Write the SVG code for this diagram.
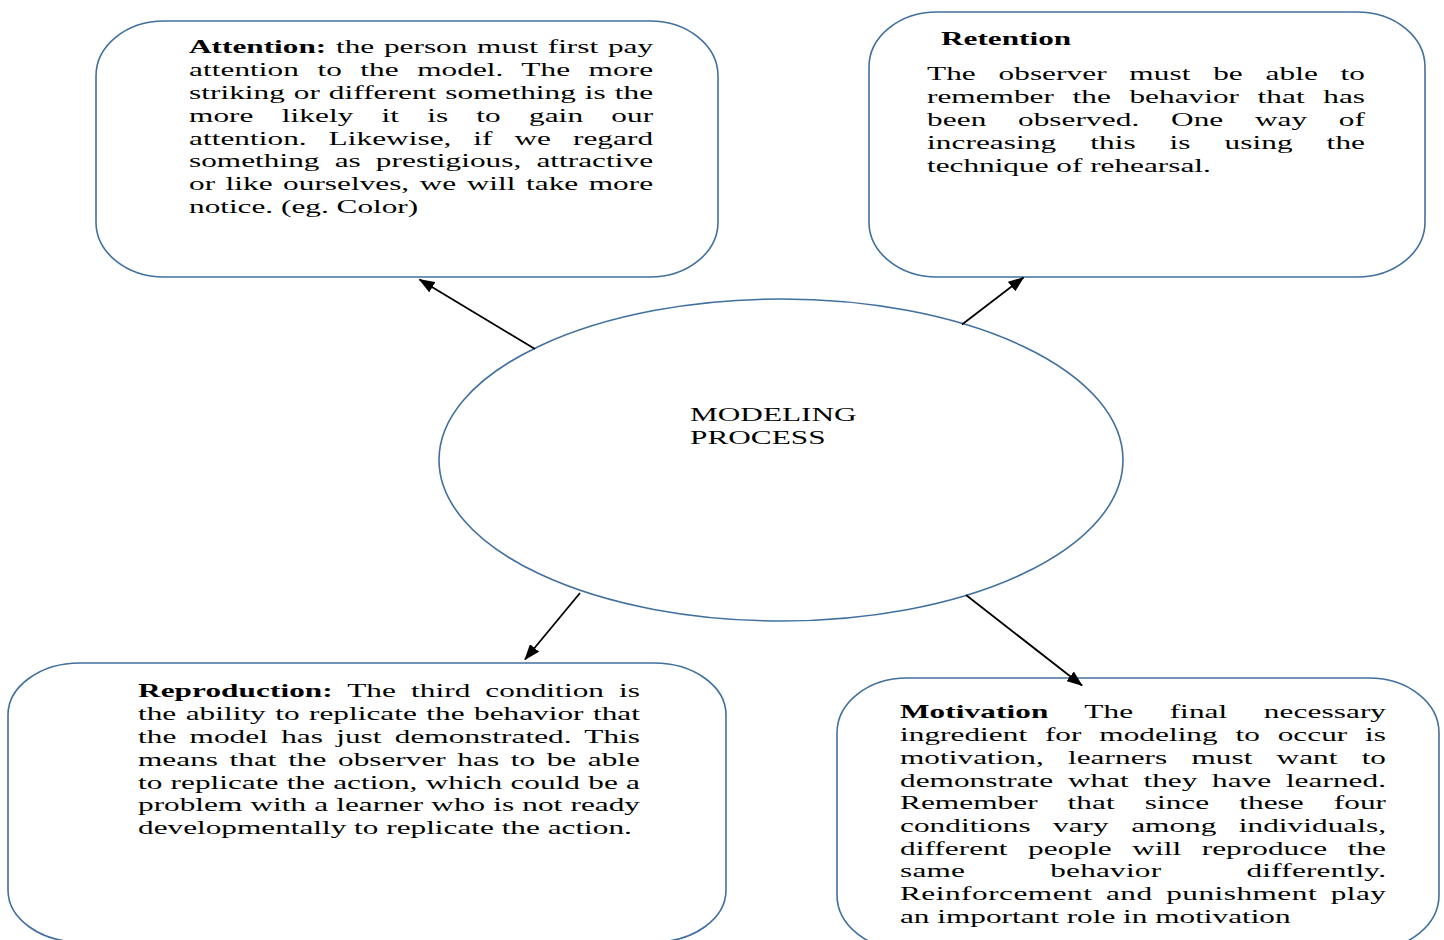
<svg xmlns="http://www.w3.org/2000/svg" width="1444" height="940" viewBox="0 0 1444 940">
  <style>
    .box { fill: #ffffff; stroke: #41709f; stroke-width: 1.6; }
    .hub { fill: #ffffff; stroke: #41709f; stroke-width: 1.6; }
    .link { stroke: #000000; stroke-width: 1.8; fill: none; marker-end: url(#head); }
    text { font-family: "Liberation Serif", "Times New Roman", serif; font-size: 19.8px; fill: #000000; }
    .b { font-weight: bold; }
  </style>
  <defs>
    <marker id="head" markerUnits="userSpaceOnUse" markerWidth="16" markerHeight="12" viewBox="0 0 16 12" refX="15" refY="6" orient="auto">
      <path d="M0,0 L16,6 L0,12 Z" fill="#000000"/>
    </marker>
  </defs>

  <rect width="1444" height="940" fill="#ffffff"/>

  <!-- centre ellipse -->
  <g id="modeling-process">
    <ellipse class="hub" cx="781" cy="460" rx="342" ry="161"/>
    <g transform="translate(690 1) scale(1.58 1)">
      <text x="0" y="420">MODELING</text>
      <text x="0" y="443">PROCESS</text>
    </g>
  </g>

  <!-- top left: attention -->
  <g id="attention">
    <rect class="box" x="96" y="21" width="622" height="256" rx="68" ry="55"/>
    <g transform="translate(189 1) scale(1.58 1)">
      <text x="0" y="52.5" textLength="293.7" style="word-spacing:1.2px"><tspan class="b">Attention:</tspan> the person must first pay</text>
      <text x="0" y="75.3" textLength="293.7" style="word-spacing:6.7px">attention to the model. The more</text>
      <text x="0" y="98.1" textLength="293.7" style="word-spacing:0.7px">striking or different something is the</text>
      <text x="0" y="120.9" textLength="293.7" style="word-spacing:12.8px">more likely it is to gain our</text>
      <text x="0" y="143.7" textLength="293.7" style="word-spacing:8.9px">attention. Likewise, if we regard</text>
      <text x="0" y="166.5" textLength="293.7" style="word-spacing:4.6px">something as prestigious, attractive</text>
      <text x="0" y="189.3" textLength="293.7" style="word-spacing:1.7px">or like ourselves, we will take more</text>
      <text x="0" y="212.1">notice. (eg. Color)</text>
    </g>
  </g>

  <!-- top right: retention -->
  <g id="retention">
    <rect class="box" x="869" y="12" width="556" height="265" rx="68" ry="55"/>
    <g transform="translate(941 1) scale(1.58 1)">
      <text class="b" x="0" y="44.5">Retention</text>
    </g>
    <g transform="translate(927 1) scale(1.58 1)">
      <text x="0" y="79.5" textLength="277.2" style="word-spacing:9.4px">The observer must be able to</text>
      <text x="0" y="102.3" textLength="277.2" style="word-spacing:6.8px">remember the behavior that has</text>
      <text x="0" y="125.1" textLength="277.2" style="word-spacing:15px">been observed. One way of</text>
      <text x="0" y="147.9" textLength="277.2" style="word-spacing:16.5px">increasing this is using the</text>
      <text x="0" y="170.7">technique of rehearsal.</text>
    </g>
  </g>

  <!-- bottom left: reproduction -->
  <g id="reproduction">
    <rect class="box" x="8" y="663" width="718" height="279" rx="72" ry="52"/>
    <g transform="translate(138 1) scale(1.58 1)">
      <text x="0" y="696.5" textLength="317.7" style="word-spacing:4.5px"><tspan class="b">Reproduction:</tspan> The third condition is</text>
      <text x="0" y="719.3" textLength="317.7" style="word-spacing:1px">the ability to replicate the behavior that</text>
      <text x="0" y="742.1" textLength="317.7" style="word-spacing:3.4px">the model has just demonstrated. This</text>
      <text x="0" y="764.9" textLength="317.7" style="word-spacing:2.4px">means that the observer has to be able</text>
      <text x="0" y="787.7" textLength="317.7" style="word-spacing:0.3px">to replicate the action, which could be a</text>
      <text x="0" y="810.5" textLength="317.7" style="word-spacing:0.2px">problem with a learner who is not ready</text>
      <text x="0" y="833.3">developmentally to replicate the action.</text>
    </g>
  </g>

  <!-- bottom right: motivation -->
  <g id="motivation">
    <rect class="box" x="837" y="678" width="602" height="272" rx="70" ry="55"/>
    <g transform="translate(900 1) scale(1.58 1)">
      <text x="0" y="717.5" textLength="307.6" style="word-spacing:18.1px"><tspan class="b">Motivation</tspan> The final necessary</text>
      <text x="0" y="740.2" textLength="307.6" style="word-spacing:6.3px">ingredient for modeling to occur is</text>
      <text x="0" y="762.9" textLength="307.6" style="word-spacing:10.3px">motivation, learners must want to</text>
      <text x="0" y="785.6" textLength="307.6" style="word-spacing:4.3px">demonstrate what they have learned.</text>
      <text x="0" y="808.3" textLength="307.6" style="word-spacing:14px">Remember that since these four</text>
      <text x="0" y="831" textLength="307.6" style="word-spacing:9.2px">conditions vary among individuals,</text>
      <text x="0" y="853.7" textLength="307.6" style="word-spacing:8px">different people will reproduce the</text>
      <text x="0" y="876.4" textLength="307.6" style="word-spacing:48.8px">same behavior differently.</text>
      <text x="0" y="899.1" textLength="307.6" style="word-spacing:3.3px">Reinforcement and punishment play</text>
      <text x="0" y="921.8">an important role in motivation</text>
    </g>
  </g>

  <!-- connectors from the ellipse out to each box -->
  <g id="connectors">
    <line class="link" x1="535" y1="349" x2="419.5" y2="279.5"/>
    <line class="link" x1="962" y1="324.5" x2="1023.5" y2="277.5"/>
    <line class="link" x1="580" y1="593" x2="525" y2="659.5"/>
    <line class="link" x1="966" y1="595" x2="1082" y2="685.5"/>
  </g>
</svg>
